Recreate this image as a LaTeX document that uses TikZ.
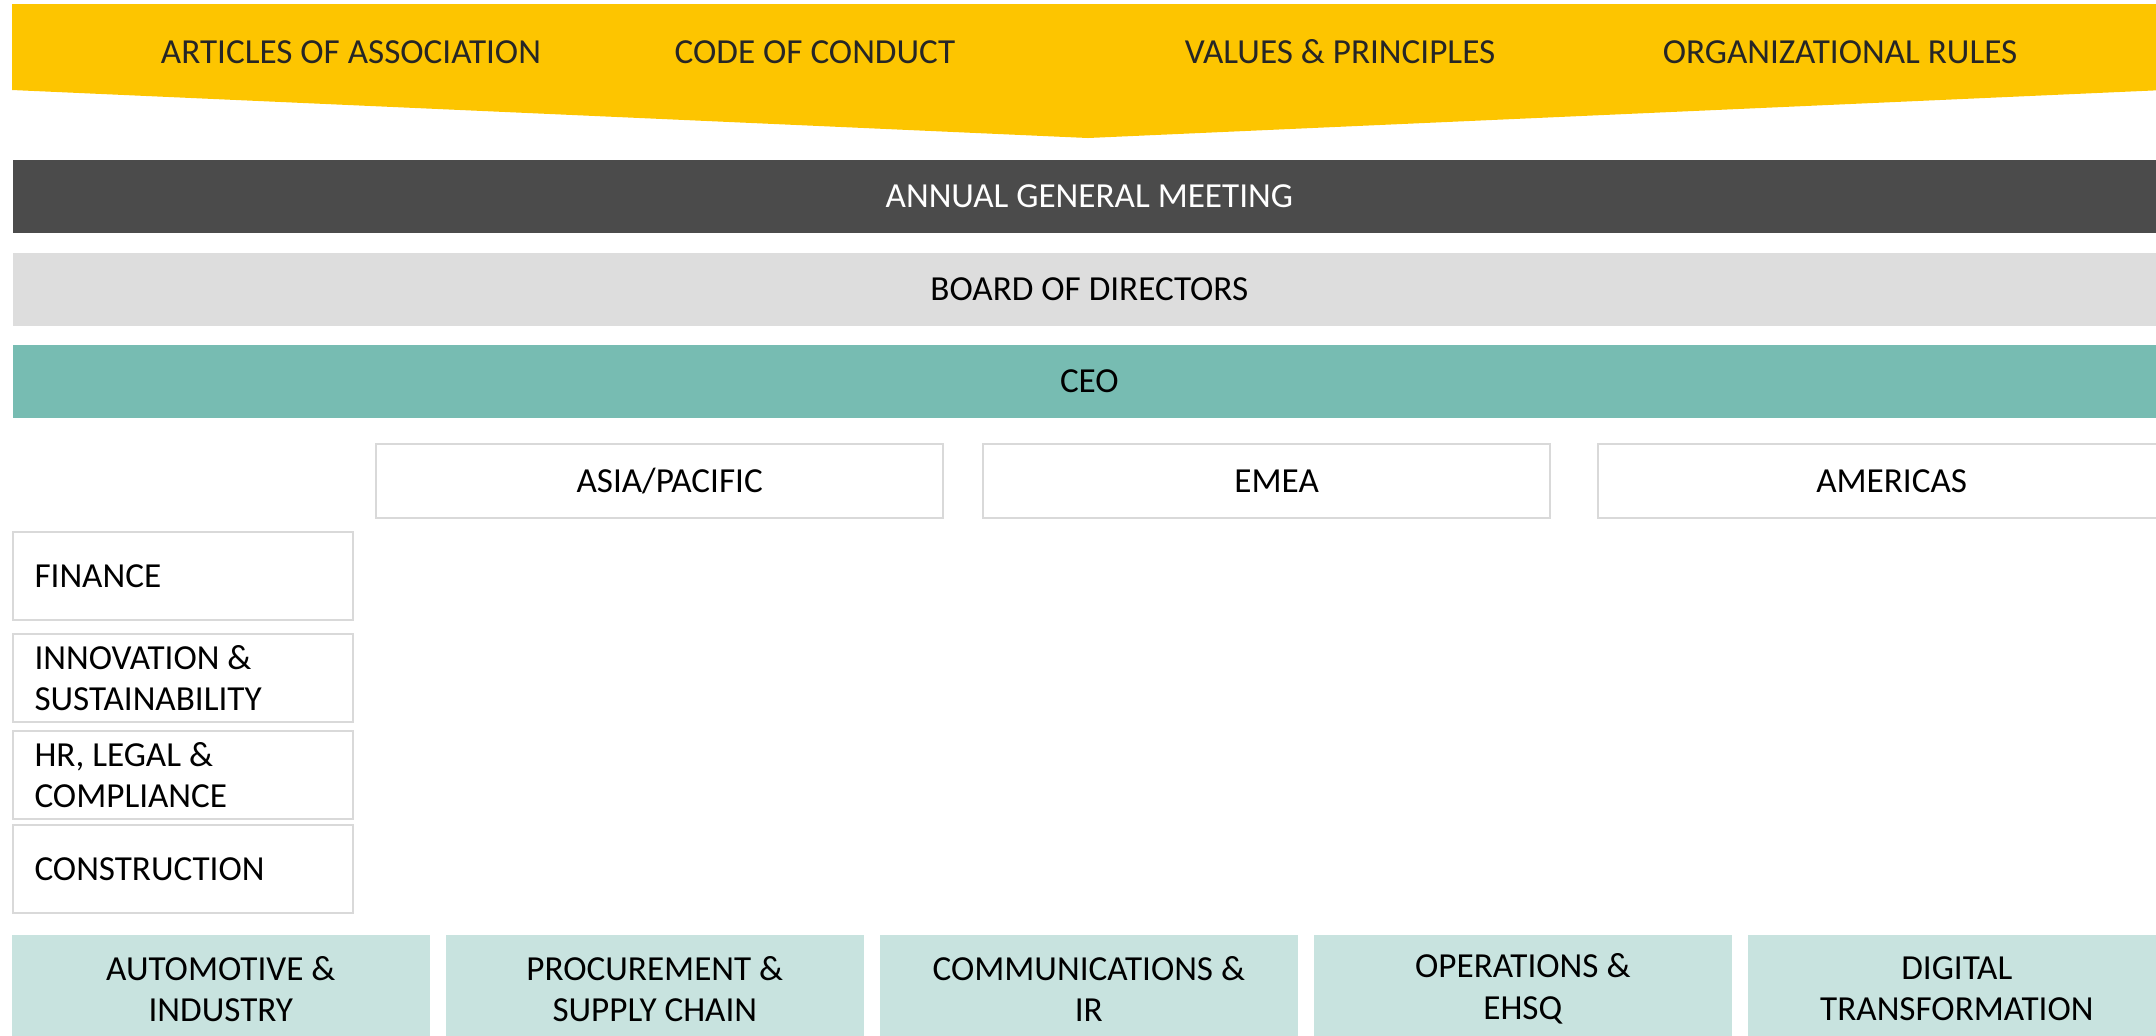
\documentclass[tikz,border=0pt]{standalone}
\usepackage{fontspec}
\setmainfont{Carlito}
\usepackage{tikz}
\usetikzlibrary{positioning}
\definecolor{govyellow}{HTML}{FDC500}
\definecolor{agmgrey}{HTML}{4B4B4B}
\definecolor{boardgrey}{HTML}{DDDDDD}
\definecolor{ceoteal}{HTML}{77BCB2}
\definecolor{unitteal}{HTML}{C8E3DF}
\definecolor{edgegrey}{HTML}{D9D9D9}
\definecolor{inkgrey}{HTML}{262626}
\tikzset{
  bar/.style={rectangle, anchor=north west, inner sep=0pt, minimum width=21.52cm, minimum height=0.73cm, text=black},
  region/.style={rectangle, anchor=north west, draw=edgegrey, line width=0.02cm, fill=white, inner sep=0pt, minimum width=5.67cm, minimum height=0.74cm},
  func/.style={rectangle, anchor=north west, draw=edgegrey, line width=0.02cm, fill=white, inner xsep=0.215cm, inner ysep=0pt, text width=2.97cm, align=flush left, minimum height=0.88cm},
  unit/.style={rectangle, anchor=north west, fill=unitteal, inner xsep=0.1cm, inner ysep=0pt, text width=3.98cm, align=flush center, minimum height=1.08cm},
  rule/.style={text=inkgrey}
}

\begin{document}
\begin{tikzpicture}[x=0.01cm,y=-0.01cm,font=\fontsize{10}{11.7}\selectfont]
	\useasboundingbox (0,0) rectangle (2156,1035);
	\clip (0,0) rectangle (2156,1035);
	% governance banner
	\fill[govyellow] (12,4) -- (2164,4) -- (2164,90) -- (1088,138) -- (12,90) -- cycle;
	\node[rule] (articles) at (351,52) {ARTICLES OF ASSOCIATION};
	\node[rule] (conduct) at (815,52) {CODE OF CONDUCT};
	\node[rule] (values) at (1340,52) {VALUES \& PRINCIPLES};
	\node[rule] (orgrules) at (1840,52) {ORGANIZATIONAL RULES};
	% bodies
	\node[bar, fill=agmgrey, text=white] (agm) at (12,159) {ANNUAL GENERAL MEETING};
	\node[bar, fill=boardgrey] (board) at (12,252) {BOARD OF DIRECTORS};
	\node[bar, fill=ceoteal] (ceo) at (12,344) {CEO};
	% regions
	\node[region] (asia) at (375,443) {\hspace*{0.2cm}ASIA/PACIFIC};
	\node[region] (emea) at (982,443) {\hspace*{0.2cm}EMEA};
	\node[region] (americas) at (1597,443) {\hspace*{0.2cm}AMERICAS};
	% functions
	\node[func] (finance) at (12,531) {FINANCE};
	\node[func] (innovation) at (12,633) {INNOVATION \&\\SUSTAINABILITY};
	\node[func] (hrlegal) at (12,730) {HR, LEGAL \&\\COMPLIANCE};
	\node[func] (construction) at (12,824) {CONSTRUCTION};
	% business units
	\node[unit] (automotive) at (11,934) {AUTOMOTIVE \&\\INDUSTRY};
	\node[unit] (procurement) at (445,934) {PROCUREMENT \&\\SUPPLY CHAIN};
	\node[unit] (communications) at (879,934) {COMMUNICATIONS \&\\IR};
	\node[unit] (operations) at (1313,934) {OPERATIONS \&\\EHSQ};
	\node[unit] (digital) at (1747,934) {DIGITAL\\TRANSFORMATION};
\end{tikzpicture}
\end{document}
